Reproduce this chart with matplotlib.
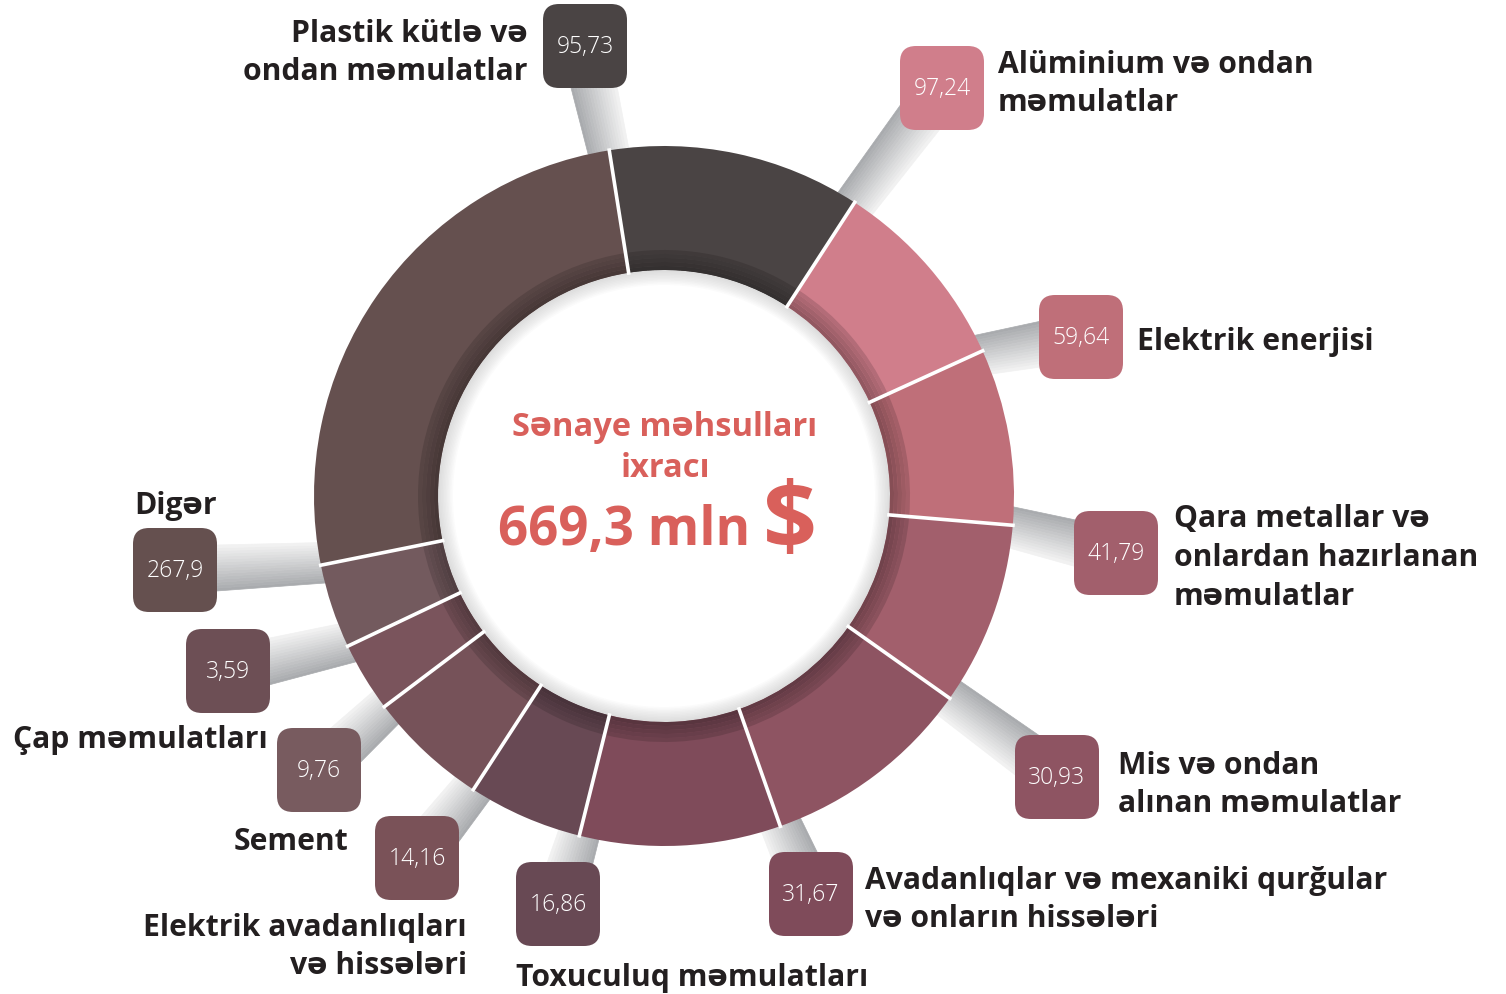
import matplotlib.pyplot as plt
from matplotlib.patches import FancyBboxPatch, Polygon, Wedge
from matplotlib.colors import to_rgb
import numpy as np

# export of industrial products, mln $
categories = [
    "Plastik kütlə və\nondan məmulatlar",
    "Alüminium və ondan\nməmulatlar",
    "Elektrik enerjisi",
    "Qara metallar və\nonlardan hazırlanan\nməmulatlar",
    "Mis və ondan\nalınan məmulatlar",
    "Avadanlıqlar və mexaniki qurğular\nvə onların hissələri",
    "Toxuculuq məmulatları",
    "Elektrik avadanlıqları\nvə hissələri",
    "Sement",
    "Çap məmulatları",
    "Digər",
]
values = [95.73, 97.24, 59.64, 41.79, 30.93, 31.67, 16.86, 14.16, 9.76, 3.59, 267.9]
# the ring in the picture is not drawn to scale, these are the arcs as shown (degrees)
arc_deg = [42, 32.5, 29.3, 30.5, 35.3, 33.4, 19, 20, 11.6, 14, 92.4]
title = "Sənaye məhsulları\nixracı"
total = "669,3 mln"

colors = ["#4a4444", "#d07e8b", "#bf6f79", "#a25f6c", "#8e5462", "#7f4b5a",
          "#684954", "#765259", "#7a545c", "#735a5e", "#65504f"]
box_colors = ["#4a4444", "#d07e8b", "#bf6f79", "#a25f6c", "#8e5462", "#7f4b5a",
              "#684954", "#7a5258", "#785b5f", "#6d4f55", "#65504f"]

# layout in picture pixels (y measured from top)
box_pos = [(585, 47), (942, 89), (1081, 338), (1116, 554), (1057, 778), (811, 895),
           (558, 905), (417, 859), (319, 771), (228, 672), (175, 571)]
label_pos = [(528, 53, "right"), (998, 84, "left"), (1137, 342, "left"),
             (1174, 558, "left"), (1118, 785, "left"), (865, 900, "left"),
             (516, 978, "left"), (467, 947, "right"), (348, 842, "right"),
             (268, 740, "right"), (217, 506, "right")]

plt.rcParams['font.family'] = ['Open Sans', 'DejaVu Sans']

W, H = 1506, 995


def Y(y):
    return H - y


fig = plt.figure(figsize=(W / 100, H / 100), dpi=100)
ax = fig.add_axes([0, 0, 1, 1])

cx, cy = 664, Y(497)
r_out, r_in = 350, 226
start = 99

ax.pie(arc_deg, startangle=start, counterclock=False, radius=r_out, center=(cx, cy),
       colors=colors, wedgeprops=dict(width=r_out - r_in, linewidth=0))
# darker inner band, shaded toward the hole
for k, f in enumerate([0.86, 0.82, 0.78, 0.74, 0.70]):
    dark = [tuple(c * f for c in to_rgb(col)) for col in colors]
    ax.pie(arc_deg, startangle=start, counterclock=False, radius=r_in + 20 - 4 * k,
           center=(cx, cy), colors=dark, wedgeprops=dict(width=4, linewidth=0))

# soft shadow inside the white centre
for k in range(10):
    ax.add_patch(Wedge((cx, cy), r_in, 0, 360, width=1.5 * (k + 1),
                       facecolor="#9a9a9a", alpha=0.035, linewidth=0, zorder=3))

bounds = start - np.concatenate([[0], np.cumsum(arc_deg)[:-1]])

# white separators
for a in np.radians(bounds):
    ax.plot([cx + (r_in - 2) * np.cos(a), cx + (r_out + 2) * np.cos(a)],
            [cy + (r_in - 2) * np.sin(a), cy + (r_out + 2) * np.sin(a)],
            color="white", lw=2.6, zorder=4, solid_capstyle="butt")

# connectors from the boxes to the ring
g_dark = np.array(to_rgb("#a7a9ac"))
g_light = np.array(to_rgb("#f3f3f3"))
n_strip = 16
for (bx, by), a in zip(box_pos, np.radians(bounds)):
    B = np.array([bx, Y(by)])
    P = np.array([cx + 335 * np.cos(a), cy + 335 * np.sin(a)])
    d = (P - B) / np.linalg.norm(P - B)
    n = np.array([-d[1], d[0]])
    for k in range(n_strip):
        t0 = -1 + 2 * k / n_strip
        t1 = -1 + 2 * (k + 1) / n_strip
        col = g_dark + (g_light - g_dark) * (k + 0.5) / n_strip
        pts = [B + n * 24 * t0, B + n * 24 * t1, P + n * 20 * t1, P + n * 20 * t0]
        ax.add_patch(Polygon(pts, closed=True, facecolor=col, edgecolor=col,
                             linewidth=0.5, zorder=0))

# value boxes
for (bx, by), val, col in zip(box_pos, values, box_colors):
    ax.add_patch(FancyBboxPatch((bx - 42, Y(by) - 42), 84, 84,
                                boxstyle="round,pad=0,rounding_size=16",
                                facecolor=col, edgecolor="none", zorder=5))
    ax.text(bx, Y(by), f"{val:g}".replace(".", ","), color="white", fontsize=16.5,
            fontweight="light", ha="center", va="center", zorder=6)

# category labels
for (lx, ly, ha), txt in zip(label_pos, categories):
    ax.text(lx, Y(ly), txt, color="#231f20", fontsize=21.7, fontweight="bold",
            ha=ha, va="center", linespacing=1.38, multialignment=ha, zorder=6)

# centre text
ax.text(cx + 1, Y(448), title, color="#d9605b", fontsize=23.5, fontweight="bold",
        ha="center", va="center", linespacing=1.3, zorder=6)
ax.text(750, Y(531), total, color="#d9605b", fontsize=38, fontweight="bold",
        ha="right", va="center", zorder=6)
ax.text(763, Y(525), "$", color="#d9605b", fontsize=68, fontweight="bold",
        ha="left", va="center", zorder=6)

ax.set_xlim(0, W)
ax.set_ylim(0, H)
ax.set_aspect("equal")
ax.axis("off")

fig.savefig("out.png", dpi=100, facecolor="white")
